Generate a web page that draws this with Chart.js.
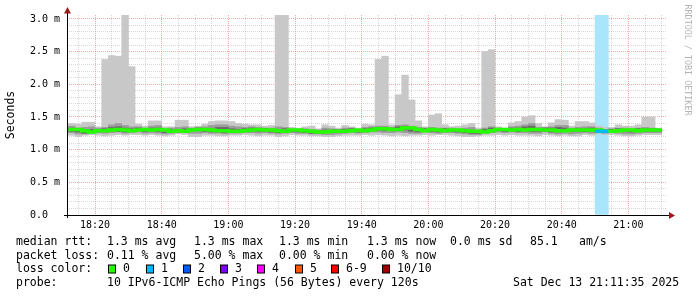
<!DOCTYPE html>
<html><head><meta charset="utf-8">
<script src="https://cdn.jsdelivr.net/npm/chart.js@4/dist/chart.umd.min.js"></script>
<style>html,body{margin:0;padding:0;background:#fff;}canvas{display:block;}</style>
</head><body>
<canvas id="c" width="697" height="297"></canvas>
<script>
// ---- time axis (minutes after 18:00) ----
const viewStartLabel = '18:11:35';
const viewEndLabel = '21:11:35';
const firstBarStart = '18:12';
const stepMinutes = 2;
const xTickLabels = ['18:20','18:40','19:00','19:20','19:40','20:00','20:20','20:40','21:00'];
const yTickLabels = ['0.0','0.5 m','1.0 m','1.5 m','2.0 m','2.5 m','3.0 m'];

// ---- per 2-minute step (ms) ----
const medianRtt = [
 1.31,1.29,1.27,1.29,1.29,1.30,1.31,1.30,1.29,1.30,
 1.31,1.30,1.31,1.30,1.28,1.29,1.28,1.30,1.31,1.31,
 1.30,1.29,1.29,1.28,1.28,1.29,1.30,1.31,1.30,1.30,
 1.29,1.28,1.30,1.30,1.29,1.28,1.27,1.27,1.28,1.28,
 1.28,1.29,1.30,1.29,1.30,1.32,1.32,1.31,1.31,1.33,
 1.33,1.31,1.29,1.31,1.30,1.29,1.30,1.30,1.29,1.28,
 1.28,1.27,1.29,1.31,1.31,1.30,1.31,1.30,1.31,1.31,
 1.30,1.30,1.29,1.29,1.30,1.30,1.30,1.30,1.30,1.28,
 1.28,1.29,1.30,1.30,1.29,1.30,1.30,1.30,1.30];
const pingMax = [
 1.40,1.39,1.42,1.42,1.35,2.38,2.44,2.43,3.07,2.27,
 1.39,1.36,1.44,1.44,1.35,1.35,1.45,1.45,1.35,1.36,
 1.39,1.43,1.44,1.44,1.43,1.40,1.39,1.38,1.38,1.36,
 1.37,3.07,3.07,1.34,1.33,1.35,1.36,1.32,1.38,1.36,
 1.33,1.37,1.35,1.33,1.39,1.38,2.38,2.43,1.38,1.84,
 2.14,1.76,1.44,1.35,1.53,1.55,1.38,1.35,1.36,1.38,
 1.40,1.33,2.50,2.53,1.35,1.33,1.41,1.43,1.50,1.52,
 1.40,1.35,1.41,1.46,1.45,1.36,1.43,1.43,1.41,1.36,
 1.34,1.34,1.38,1.36,1.36,1.38,1.50,1.50,1.33];
const pingMin = [
 1.22,1.20,1.22,1.23,1.22,1.21,1.22,1.23,1.22,1.23,
 1.23,1.22,1.23,1.22,1.21,1.22,1.24,1.23,1.20,1.20,
 1.22,1.22,1.21,1.21,1.22,1.22,1.23,1.22,1.21,1.22,
 1.22,1.20,1.21,1.23,1.22,1.22,1.21,1.21,1.20,1.20,
 1.21,1.22,1.22,1.22,1.23,1.22,1.23,1.22,1.21,1.22,
 1.21,1.22,1.22,1.23,1.22,1.23,1.23,1.22,1.21,1.20,
 1.20,1.21,1.22,1.22,1.23,1.22,1.23,1.22,1.22,1.22,
 1.21,1.23,1.22,1.21,1.22,1.21,1.21,1.23,1.22,1.24,
 1.23,1.23,1.22,1.21,1.21,1.22,1.23,1.23,1.23];
const innerHi = [
 1.36,1.33,1.34,1.35,1.33,1.34,1.38,1.40,1.37,1.35,
 1.35,1.33,1.36,1.37,1.32,1.33,1.34,1.35,1.33,1.34,
 1.35,1.37,1.38,1.38,1.36,1.35,1.34,1.35,1.34,1.33,
 1.33,1.35,1.34,1.32,1.31,1.32,1.31,1.30,1.33,1.32,
 1.31,1.33,1.33,1.31,1.34,1.35,1.36,1.36,1.34,1.37,
 1.38,1.36,1.34,1.33,1.34,1.33,1.33,1.33,1.32,1.33,
 1.34,1.30,1.33,1.35,1.33,1.32,1.35,1.36,1.38,1.40,
 1.34,1.34,1.35,1.37,1.37,1.33,1.34,1.35,1.35,1.33,
 1.31,1.32,1.33,1.33,1.32,1.33,1.34,1.33,1.32];
const innerLo = [
 1.26,1.24,1.24,1.25,1.26,1.25,1.26,1.27,1.25,1.26,
 1.27,1.25,1.26,1.25,1.24,1.25,1.26,1.26,1.25,1.25,
 1.26,1.25,1.25,1.24,1.25,1.25,1.26,1.26,1.25,1.26,
 1.25,1.24,1.25,1.26,1.25,1.25,1.24,1.24,1.23,1.23,
 1.24,1.25,1.26,1.25,1.26,1.27,1.27,1.26,1.26,1.27,
 1.26,1.25,1.25,1.27,1.26,1.25,1.26,1.26,1.25,1.24,
 1.23,1.23,1.25,1.26,1.27,1.26,1.27,1.26,1.26,1.25,
 1.25,1.27,1.25,1.24,1.25,1.24,1.25,1.26,1.25,1.26,
 1.25,1.26,1.25,1.24,1.24,1.25,1.26,1.26,1.26];
const coreHi = [
 1.33,1.31,1.30,1.31,1.31,1.32,1.34,1.35,1.33,1.32,
 1.33,1.32,1.33,1.33,1.30,1.31,1.31,1.32,1.32,1.33,
 1.32,1.32,1.34,1.34,1.32,1.31,1.32,1.33,1.32,1.32,
 1.31,1.31,1.32,1.31,1.30,1.30,1.29,1.29,1.30,1.30,
 1.30,1.31,1.32,1.30,1.32,1.33,1.34,1.33,1.33,1.35,
 1.35,1.33,1.31,1.32,1.32,1.31,1.32,1.31,1.31,1.30,
 1.30,1.29,1.31,1.33,1.32,1.31,1.33,1.33,1.35,1.36,
 1.32,1.33,1.33,1.34,1.33,1.31,1.32,1.32,1.33,1.31,
 1.30,1.31,1.32,1.31,1.31,1.32,1.32,1.32,1.31];
const coreLo = [
 1.28,1.27,1.25,1.27,1.27,1.28,1.29,1.28,1.27,1.28,
 1.29,1.28,1.29,1.28,1.26,1.27,1.27,1.28,1.29,1.29,
 1.28,1.27,1.27,1.26,1.26,1.27,1.28,1.29,1.28,1.28,
 1.27,1.26,1.28,1.28,1.27,1.26,1.25,1.25,1.26,1.26,
 1.26,1.27,1.28,1.27,1.28,1.30,1.30,1.29,1.29,1.31,
 1.30,1.28,1.27,1.29,1.28,1.27,1.28,1.28,1.27,1.26,
 1.25,1.25,1.27,1.29,1.29,1.28,1.29,1.28,1.29,1.28,
 1.28,1.28,1.27,1.27,1.28,1.28,1.28,1.28,1.28,1.27,
 1.26,1.27,1.28,1.28,1.27,1.28,1.28,1.28,1.28];
const lossCount = [
 0,0,0,0,0,0,0,0,0,0, 0,0,0,0,0,0,0,0,0,0,
 0,0,0,0,0,0,0,0,0,0, 0,0,0,0,0,0,0,0,0,0,
 0,0,0,0,0,0,0,0,0,0, 0,0,0,0,0,0,0,0,0,0,
 0,0,0,0,0,0,0,0,0,0, 0,0,0,0,0,0,0,0,0,1,
 1,0,0,0,0,0,0,0,0];

// ---- legend ----
const lossLabels = ['0','1','2','3','4','5','6-9','10/10'];
const lossColors = ['#26ff00','#00b8ff','#0059ff','#7e00ff','#ff00ff','#ff5500','#ff0000','#a10000'];
const lossBgColors = [null,'#aae6fb','#99b8ff','#c599ff','#ff99ff','#ffbb99','#ff9999','#d99999'];
const rttStats = ['1.3 ms avg','1.3 ms max','1.3 ms min','1.3 ms now','0.0 ms sd','85.1','am/s'];
const lossStats = ['0.11 % avg','5.00 % max','0.00 % min','0.00 % now'];
const probeText = '10 IPv6-ICMP Echo Pings (56 Bytes) every 120s';
const dateText = 'Sat Dec 13 21:11:35 2025';

// ---- derived ----
const toMin = s => { const p = s.split(':').map(Number); return (p[0]-18)*60 + p[1] + (p[2]||0)/60; };
const xMin = toMin(viewStartLabel), xMax = toMin(viewEndLabel);
const bar0 = toMin(firstBarStart);
const yMax = 3.06;
const starts = medianRtt.map((_, i) => bar0 + stepMinutes*i);
const centers = starts.map(s => s + stepMinutes/2);
const xGrid = []; for (let m = 15; m <= 190; m += 5) xGrid.push(m);
const yGrid = []; for (let k = 0; k <= 30; k++) yGrid.push(k/10);
const isMajorX = v => Math.abs(v % 20) < 1e-6;
const isMajorY = v => Math.abs(v*2 - Math.round(v*2)) < 1e-6;
const lossIdx = c => c === 0 ? 0 : (c >= 10 ? 7 : (c >= 6 ? 6 : c));

const band = (lo, hi, color, order) => ({
  type: 'bar', order, grouped: false, barPercentage: 1, categoryPercentage: 1,
  borderWidth: 0, backgroundColor: color,
  data: centers.map((x, i) => ({x, y: [lo[i], hi[i]]}))
});
const lossRows = centers.map((x, i) => ({x, i, c: lossCount[i]})).filter(d => d.c > 0);
const lossBg = {
  type: 'bar', order: 10, grouped: false, barPercentage: 1, categoryPercentage: 1, borderWidth: 0,
  data: lossRows.map(d => ({x: d.x, y: [0, yMax]})),
  backgroundColor: lossRows.map(d => lossBgColors[lossIdx(d.c)])
};
// green median (stepped)
const medPts = [{x: starts[0], y: medianRtt[0]}].concat(medianRtt.map((m, i) => ({x: starts[i] + stepMinutes, y: m})));
const medLine = {
  type: 'line', order: 1, data: medPts, stepped: 'before', borderWidth: 3.5, pointRadius: 0,
  borderColor: lossColors[0], backgroundColor: lossColors[0], fill: false,
  borderCapStyle: 'butt', borderJoinStyle: 'miter'
};
// loss-coloured median pieces
const lossLines = lossRows.map(d => ({
  type: 'line', order: 0, borderWidth: 3.5, pointRadius: 0, fill: false, borderCapStyle: 'butt',
  borderColor: lossColors[lossIdx(d.c)], backgroundColor: lossColors[lossIdx(d.c)],
  data: [{x: starts[d.i], y: medianRtt[d.i]}, {x: starts[d.i] + stepMinutes, y: medianRtt[d.i]}]
}));

const MONO = 'DejaVu Sans Mono';
const decor = {
  id: 'decor',
  afterDraw(chart) {
    const c = chart.ctx, a = chart.chartArea;
    c.save();
    c.strokeStyle = '#000'; c.lineWidth = 1;
    c.beginPath();
    c.moveTo(a.left - 3, a.bottom + 0.5); c.lineTo(a.right + 2, a.bottom + 0.5);
    c.moveTo(a.left + 0.5, a.bottom + 3); c.lineTo(a.left + 0.5, a.top - 2);
    c.stroke();
    c.fillStyle = '#9b1c1c';
    c.beginPath();
    c.moveTo(a.left + 0.5, a.top - 8); c.lineTo(a.left - 3, a.top - 1.5); c.lineTo(a.left + 4, a.top - 1.5); c.closePath(); c.fill();
    c.beginPath();
    c.moveTo(a.right + 8, a.bottom + 0.5); c.lineTo(a.right + 2, a.bottom - 3); c.lineTo(a.right + 2, a.bottom + 4); c.closePath(); c.fill();
    c.fillStyle = '#000';
    c.font = '11.5px "' + MONO + '"';
    c.textAlign = 'center'; c.textBaseline = 'middle';
    c.save(); c.translate(11, (a.top + a.bottom) / 2); c.rotate(-Math.PI/2); c.fillText('Seconds', 0, 0); c.restore();
    c.save(); c.fillStyle = '#b4b4b4'; c.font = '8.4px "' + MONO + '"';
    c.translate(687, 60); c.rotate(Math.PI/2); c.fillText('RRDTOOL / TOBI OETIKER', 0, 0); c.restore();
    c.font = '11.5px "' + MONO + '"'; c.textAlign = 'left'; c.fillStyle = '#000';
    const r1 = 242, r2 = 256, r3 = 269.5, r4 = 283.5;
    c.fillText('median rtt:', 16, r1);
    [107,194,279,367,450,530,579].forEach((x, i) => c.fillText(rttStats[i], x, r1));
    c.fillText('packet loss:', 16, r2);
    [107,194,279,367].forEach((x, i) => c.fillText(lossStats[i], x, r2));
    c.fillText('loss color:', 16, r3);
    const bx = [108,146,183,220,257,295,331,382];
    lossLabels.forEach((l, i) => {
      c.fillStyle = lossColors[i]; c.fillRect(bx[i] + 0.5, r3 - 4.5, 7, 8);
      c.strokeStyle = '#000'; c.strokeRect(bx[i] + 0.5, r3 - 4.5, 7, 8);
      c.fillStyle = '#000'; c.fillText(l, bx[i] + 15, r3);
    });
    c.fillText('probe:', 16, r4);
    c.fillText(probeText, 107, r4);
    c.fillText(dateText, 513, r4);
    c.restore();
  }
};

const minorCol = 'rgba(150,150,150,0.38)';
const majorCol = 'rgba(240,90,90,0.5)';
new Chart(document.getElementById('c'), {
  type: 'bar',
  data: { datasets: [
    medLine,
    band(coreLo, coreHi, '#6a6a6a', 3),
    band(innerLo, innerHi, '#9c9c9c', 4),
    band(pingMin, pingMax, '#c8c8c8', 5),
    lossBg
  ].concat(lossLines) },
  options: {
    responsive: false, animation: false, events: [],
    layout: { padding: { left: 0, right: 30, top: 15, bottom: 0 } },
    plugins: { legend: { display: false }, tooltip: { enabled: false }, colors: { enabled: false } },
    scales: {
      x: {
        type: 'linear', min: xMin, max: xMax, offset: false,
        afterBuildTicks: s => { s.ticks = xGrid.map(v => ({value: v})); },
        afterFit: s => { s.height = 82; },
        grid: { offset: false, drawTicks: false, lineWidth: 1,
          color: ctx => (ctx.tick && isMajorX(ctx.tick.value)) ? majorCol : minorCol },
        border: { display: false, dash: [1, 1] },
        ticks: { autoSkip: false, maxRotation: 0, minRotation: 0, padding: 4, color: '#000',
          font: { family: MONO, size: 10 },
          callback: v => isMajorX(v) ? xTickLabels[Math.round(v/20) - 1] || '' : '' }
      },
      y: {
        type: 'linear', min: 0, max: yMax,
        afterBuildTicks: s => { s.ticks = yGrid.map(v => ({value: v})); },
        afterFit: s => { s.width = 67; },
        grid: { drawTicks: false, lineWidth: 1,
          color: ctx => (ctx.tick && isMajorY(ctx.tick.value)) ? majorCol : minorCol },
        border: { display: false, dash: [1, 1] },
        ticks: { autoSkip: false, padding: 7, color: '#000', font: { family: MONO, size: 10 },
          callback: v => isMajorY(v) ? (yTickLabels[Math.round(v*2)] || '').padEnd(5, ' ') : '' }
      }
    }
  },
  plugins: [decor]
});
</script>
</body></html>
